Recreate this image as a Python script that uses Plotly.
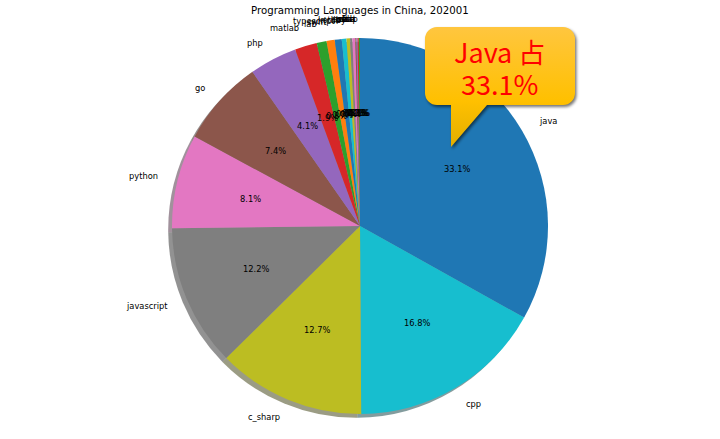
import base64
import math

import plotly.graph_objects as go

# clockwise from 12 o'clock
languages = ["java", "cpp", "c_sharp", "javascript", "python", "go", "php", "matlab", "lab", "swift",
             "typescript", "kotlin", "ruby", "rust", "perl", "scala", "lua", "dart", "abap"]
shares = [33.1, 16.8, 12.7, 12.2, 8.1, 7.4, 4.1, 1.9, 0.85, 0.7, 0.6, 0.4, 0.3, 0.2, 0.25, 0.1, 0.1, 0.1, 0.1]
tab10 = ["#1f77b4", "#17becf", "#bcbd22", "#7f7f7f", "#e377c2", "#8c564b", "#9467bd", "#d62728", "#2ca02c", "#ff7f0e"]
title = "Programming Languages in China, 202001"
callout_lines = ["Java 占", "33.1%"]

W, H = 720, 439
CX, CY, R = 360, 226, 188
SHADOW = 3.8

colors = [tab10[i % len(tab10)] for i in range(len(languages))]


def shadow_color(c):
    r, g, b = (int(c[i:i + 2], 16) for i in (1, 3, 5))
    return f"rgba({0.3 * r:.0f},{0.3 * g:.0f},{0.3 * b:.0f},0.5)"


def domain(cx, cy):
    return {"x": [(cx - R) / W, (cx + R) / W], "y": [1 - (cy + R) / H, 1 - (cy - R) / H]}


def text(x, y, s, anchor="center", size=8.3, color="black", family="DejaVu Sans"):
    return dict(x=x / W, y=1 - y / H, xref="paper", yref="paper", text=s, showarrow=False,
                xanchor=anchor, yanchor="middle", borderpad=0,
                font=dict(family=family, size=size, color=color))


fig = go.Figure()
fig.add_trace(go.Pie(values=shares, sort=False, direction="clockwise", rotation=0, textinfo="none",
                     marker=dict(colors=[shadow_color(c) for c in colors]), hoverinfo="skip",
                     domain=domain(CX - SHADOW, CY + SHADOW), showlegend=False))
fig.add_trace(go.Pie(values=shares, labels=languages, sort=False, direction="clockwise", rotation=0,
                     textinfo="none", marker=dict(colors=colors), domain=domain(CX, CY), showlegend=False))

annotations = [text(360, 11, title, size=10.2)]
total = sum(shares)
cum = 0
for name, v in zip(languages, shares):
    a = 2 * math.pi * (cum + v / 2) / total
    cum += v
    sx, cy = math.sin(a), math.cos(a)
    annotations.append(text(CX + 1.1 * R * sx, CY - 1.1 * R * cy, name, "left" if sx > 0 else "right"))
    annotations.append(text(CX + 0.6 * R * sx, CY - 0.6 * R * cy, f"{100 * v / total:.1f}%"))

annotations.append(text(499, 51, callout_lines[0], size=27, color="#ff0000", family="Noto Sans CJK SC"))
annotations.append(text(499, 83, callout_lines[1], size=27, color="#ff0000", family="Noto Sans CJK SC"))

# speech bubble has a gradient and soft shadow, which plotly shapes can't do
bubble = "M437 27H563A12 12 0 0 1 575 39V93A12 12 0 0 1 563 105H487L451 147V105H437A12 12 0 0 1 425 93V39A12 12 0 0 1 437 27Z"
svg = f"""<svg xmlns="http://www.w3.org/2000/svg" width="{W}" height="{H}" viewBox="0 0 {W} {H}">
<defs><linearGradient id="g" x1="0" y1="27" x2="0" y2="147" gradientUnits="userSpaceOnUse">
<stop offset="0" stop-color="#ffc63f"/><stop offset="0.62" stop-color="#ffc000"/><stop offset="1" stop-color="#e2ae00"/>
</linearGradient><filter id="b" x="-20%" y="-20%" width="140%" height="140%"><feGaussianBlur stdDeviation="1.5"/></filter></defs>
<path d="{bubble}" fill="#000" fill-opacity="0.55" transform="translate(1.5 2)" filter="url(#b)"/>
<path d="{bubble}" fill="url(#g)"/></svg>"""
bubble_src = "data:image/svg+xml;base64," + base64.b64encode(svg.encode()).decode()

fig.update_layout(
    width=W, height=H, margin=dict(l=0, r=0, t=0, b=0), paper_bgcolor="white", showlegend=False,
    annotations=annotations,
    images=[dict(source=bubble_src, xref="paper", yref="paper", x=0, y=1, sizex=1, sizey=1,
                 xanchor="left", yanchor="top", sizing="stretch", layer="above")],
)

fig.write_html("out.html", config={"displayModeBar": False}, post_script="document.body.style.margin='0';")
